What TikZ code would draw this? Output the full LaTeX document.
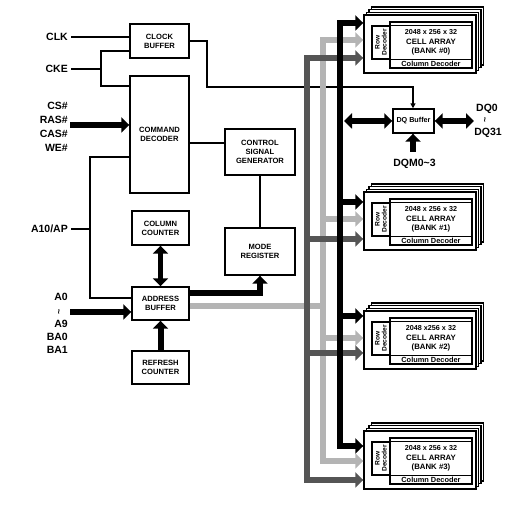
\documentclass[tikz,border=0pt]{standalone}
\usepackage{fontspec}
\setmainfont{Liberation Sans}
\usetikzlibrary{arrows.meta}
\definecolor{lbus}{HTML}{B4B4B4}
\definecolor{dbus}{HTML}{555555}
\tikzset{
  wire/.style={line width=1.4pt},
  box/.style={draw, line width=1.4pt, fill=white, align=center, inner sep=0pt, font=\bfseries\fontsize{7.6}{9}\selectfont},
  lab/.style={font=\bfseries\fontsize{10.5}{12}\selectfont, inner sep=0pt},
  btxt/.style={font=\bfseries\fontsize{7.8}{9}\selectfont, inner sep=0pt},
  fat/.style={line width=6pt, -{Triangle[length=8pt,width=15pt]}},
  fatboth/.style={line width=6pt, {Triangle[length=8pt,width=15pt]}-{Triangle[length=8pt,width=15pt]}},
  busline/.style={line width=5.6pt, line join=miter},
  busarrow/.style={line width=5.6pt, line join=miter, -{Triangle[length=8pt,width=15pt]}},
  busboth/.style={line width=5.6pt, line join=miter, {Triangle[length=8pt,width=15pt]}-{Triangle[length=8pt,width=15pt]}}
}
\newcommand{\drawbank}[4]{%
  \foreach \k in {3,2,1}{\draw[wire,fill=white] ({364+2.4*\k},{#2-2.6*\k}) rectangle ++(112,58);}
  \node[box, minimum width=112pt, minimum height=58pt] (#1) at (420,{#2+29}) {};
  \node[box, minimum width=82pt, minimum height=46pt] (#1c) at (431,{#2+30}) {};
  \node[box, minimum width=18pt, minimum height=33pt] (#1r) at (381,{#2+27.5}) {};
  \draw[wire] (#1r.north east) -- (#1c.east |- #1r.north);
  \draw[wire] (#1r.south east) -- (#1c.east |- #1r.south);
  \node[rotate=90, align=center, inner sep=0pt, font=\bfseries\fontsize{6.6}{7}\selectfont] (#1rt) at (#1r.center) {Row\\Decoder};
  \node[btxt, font=\bfseries\fontsize{7.2}{8}\selectfont] (#1t1) at (431,{#2+17}) {#3};
  \node[btxt] (#1t2) at (431,{#2+26.5}) {CELL ARRAY};
  \node[btxt] (#1t3) at (431,{#2+36}) {#4};
  \node[btxt, font=\bfseries\fontsize{7.4}{8}\selectfont] (#1t4) at (431,{#2+48.5}) {Column Decoder};
}
\begin{document}
\begin{tikzpicture}[x=1pt,y=-1pt]
\useasboundingbox (0,0) rectangle (531,510);

% boxes
\node[box, minimum width=59pt, minimum height=34pt] (clkbuf) at (159.5,41) {CLOCK\\BUFFER};
\node[box, minimum width=59pt, minimum height=117pt] (cmd) at (159.5,134.5) {COMMAND\\DECODER};
\node[box, minimum width=70pt, minimum height=46pt] (csg) at (260,152) {CONTROL\\SIGNAL\\GENERATOR};
\node[box, minimum width=70pt, minimum height=47pt] (mr) at (260,251.5) {MODE\\REGISTER};
\node[box, minimum width=57pt, minimum height=34pt] (colc) at (160.5,228) {COLUMN\\COUNTER};
\node[box, minimum width=57pt, minimum height=33pt] (addr) at (160.5,303.5) {ADDRESS\\BUFFER};
\node[box, minimum width=57pt, minimum height=33pt] (refc) at (160.5,367.5) {REFRESH\\COUNTER};
\node[box, minimum width=41pt, minimum height=24pt, font=\bfseries\fontsize{7.2}{8}\selectfont] (dq) at (413.5,121) {DQ Buffer};

% left labels
\node[lab, anchor=east] (lclk) at (68,37) {CLK};
\node[lab, anchor=east] (lcke) at (68,69) {CKE};
\node[lab, anchor=east] (lcs) at (68,106) {CS\#};
\node[lab, anchor=east] (lras) at (68,119.5) {RAS\#};
\node[lab, anchor=east] (lcas) at (68,134) {CAS\#};
\node[lab, anchor=east] (lwe) at (68,147.5) {WE\#};
\node[lab, anchor=east] (la10) at (68,229) {A10/AP};
\node[lab, anchor=east] (la0) at (68,297) {A0};
\node[rotate=90, inner sep=0pt, font=\bfseries\fontsize{9}{9}\selectfont] (ltil) at (60,312) {\textasciitilde};
\node[lab, anchor=east] (la9) at (68,324) {A9};
\node[lab, anchor=east] (lba0) at (68,337) {BA0};
\node[lab, anchor=east] (lba1) at (68,350) {BA1};

% right labels
\node[lab] (ldq0) at (487,109) {DQ0};
\node[rotate=90, inner sep=0pt, font=\bfseries\fontsize{9}{9}\selectfont] (ltil2) at (486,120) {\textasciitilde};
\node[lab] (ldq31) at (488,133) {DQ31};
\node[lab] (ldqm) at (414.5,164) {DQM0\textasciitilde 3};

% thin wires
\draw[wire] ([xshift=3pt]lclk.east) -- (lclk.east -| clkbuf.west);
\draw[wire] ([xshift=3pt]lcke.east) -- (101,69);
\draw[wire] (clkbuf.west |- 0,51) -- (101,51) -- (101,86) -- (cmd.west |- 0,86);
\draw[wire] (cmd.east |- 0,143) -- (csg.west |- 0,143);
\draw[wire] (cmd.west |- 0,157) -- (90,157) -- (90,298) -- (addr.west |- 0,298);
\draw[wire] ([xshift=3pt]la10.east) -- (90,229);
\draw[wire] (csg.south) -- (mr.north);
\draw[wire, -{Triangle[length=5pt,width=5pt]}] (clkbuf.east |- 0,41) -- (207,41) -- (207,87) -- (413,87) -- (dq.north -| 413,0);

% fat arrows
\draw[fat] (70,125) -- (cmd.west |- 0,125);
\draw[fat] (70,312) -- (addr.west |- 0,312);
\draw[fatboth, line width=5pt] (colc.south) -- (addr.north);
\draw[fat] (refc.north) -- (addr.south);
\draw[fat, line join=miter] (addr.east |- 0,293) -- (260,293) -- (mr.south);
\draw[fatboth] (344,121) -- (dq.west);
\draw[fatboth] (dq.east) -- (474,121);
\draw[fat] (413,152) -- (dq.south -| 413,0);

% banks
\drawbank{b0}{15}{2048 x 256 x 32}{(BANK \#0)}
\drawbank{b1}{192}{2048 x 256 x 32}{(BANK \#1)}
\drawbank{b2}{311}{2048 x256 x 32}{(BANK \#2)}
\drawbank{b3}{431}{2048 x 256 x 32}{(BANK \#3)}

% light gray bus
\draw[busline, lbus] (addr.east |- 0,306) -- (323,306);
\draw[busboth, lbus] (b0.west |- 0,40) -- (323,40) -- (323,461) -- (b3.west |- 0,461);
\draw[busarrow, lbus] (323,219) -- (b1.west |- 0,219);
\draw[busarrow, lbus] (323,338) -- (b2.west |- 0,338);
% dark gray bus
\draw[busboth, dbus] (b0.west |- 0,58) -- (307,58) -- (307,480) -- (b3.west |- 0,480);
\draw[busarrow, dbus] (307,239) -- (b1.west |- 0,239);
\draw[busarrow, dbus] (307,353) -- (b2.west |- 0,353);
% black bus
\draw[busboth, black] (b0.west |- 0,23) -- (340,23) -- (340,446) -- (b3.west |- 0,446);
\draw[busarrow, black] (340,202) -- (b1.west |- 0,202);
\draw[busarrow, black] (340,316) -- (b2.west |- 0,316);
\end{tikzpicture}
\end{document}
